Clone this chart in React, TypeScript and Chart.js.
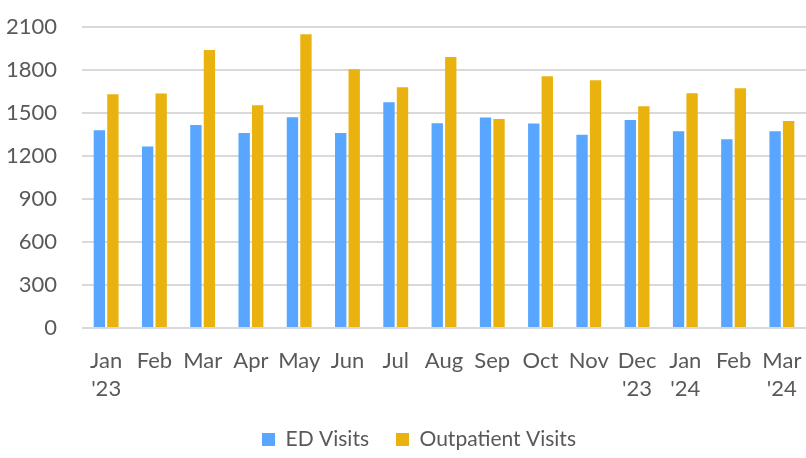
import React, { useEffect, useRef } from "react";
import { Chart, registerables } from "chart.js";

Chart.register(...registerables);

const categories: (string | string[])[] = [
  ["Jan", "'23"], "Feb", "Mar", "Apr", "May", "Jun", "Jul", "Aug", "Sep", "Oct", "Nov",
  ["Dec", "'23"], ["Jan", "'24"], "Feb", ["Mar", "'24"],
];
const edVisits = [1379, 1267, 1416, 1361, 1470, 1361, 1575, 1428, 1468, 1426, 1349, 1451, 1372, 1316, 1372];
const outpatientVisits = [1631, 1636, 1939, 1554, 2049, 1806, 1680, 1890, 1459, 1757, 1729, 1547, 1638, 1673, 1444];
const yTicks = [0, 300, 600, 900, 1200, 1500, 1800, 2100];

const legendFix = {
  id: "legendFix",
  beforeLayout(chart: any) {
    const lg = chart.legend;
    if (lg && !lg._patched) {
      const orig = lg.fit.bind(lg);
      lg.fit = function () {
        orig();
        this.height -= 2;
        if (this.lineWidths) this.lineWidths = this.lineWidths.map((w: number) => w - 32);
      };
      lg._patched = true;
    }
  },
};

export default function App() {
  const ref = useRef<HTMLCanvasElement | null>(null);
  useEffect(() => {
    document.body.style.margin = "0";
    const ctx = ref.current!;
    const family = "Lato, 'Open Sans', sans-serif";
    const font = { family, size: 22 };
    const chart = new Chart(ctx, {
      type: "bar",
      data: {
        labels: categories,
        datasets: [
          { label: "ED Visits", data: edVisits, backgroundColor: "#58a6ff", categoryPercentage: 0.56, barPercentage: 0.84 },
          { label: "Outpatient Visits", data: outpatientVisits, backgroundColor: "#eab20f", categoryPercentage: 0.56, barPercentage: 0.84 },
        ],
      },
      options: {
        animation: false,
        responsive: false,
        layout: { padding: { top: 27, left: 0, right: 0, bottom: 0 } },
        plugins: {
          legend: {
            position: "bottom",
            labels: { color: "#595959", font: { family, size: 21 }, boxWidth: 13, boxHeight: 13, padding: 27 },
          },
          tooltip: { enabled: false },
        },
        scales: {
          x: {
            grid: { display: false },
            border: { display: false },
            ticks: { color: "#595959", font: { ...font, lineHeight: "28px" }, padding: 11, maxRotation: 0, autoSkip: false },
            afterFit: (axis: any) => {
              axis.height -= 12;
              axis.paddingLeft = 0;
              axis.paddingRight = 0;
            },
          },
          y: {
            min: 0,
            max: 2100,
            afterBuildTicks: (axis: any) => {
              axis.ticks = yTicks.map((v) => ({ value: v }));
            },
            afterFit: (axis: any) => {
              axis.width = 82;
              axis.paddingTop = 0;
              axis.paddingBottom = 0;
            },
            grid: { color: "#d9d9d9", lineWidth: 2, drawTicks: false },
            border: { display: false },
            ticks: { color: "#595959", font, padding: 25, callback: (v: any) => String(v) },
          },
        },
      },
      plugins: [legendFix],
    } as any);
    return () => chart.destroy();
  }, []);
  return (
    <div style={{ position: "fixed", left: 0, top: 0, width: 806, height: 458, background: "#fff" }}>
      <canvas ref={ref} width={806} height={458} />
    </div>
  );
}
